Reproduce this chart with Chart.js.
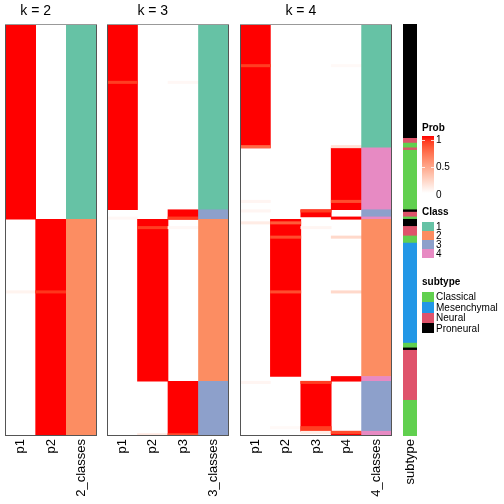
<!DOCTYPE html>
<html><head><meta charset="utf-8">
<script src="https://cdn.jsdelivr.net/npm/chart.js@4.4.1/dist/chart.umd.min.js"></script>
<style>
html,body{margin:0;padding:0;background:#fff;}
#wrap{position:relative;width:504px;height:504px;overflow:hidden;font-family:"Liberation Sans",Arial,sans-serif;}
canvas{position:absolute;top:0;}
.lg{position:absolute;font-size:10px;line-height:12px;height:12px;color:#000;white-space:nowrap;}
.lt{font-weight:bold;}
.sw{position:absolute;width:12px;left:422px;}
.tk{position:absolute;width:3px;height:1px;background:rgba(255,255,255,0.8);}
</style></head><body>
<div id="wrap">
<canvas id="c2" width="102" height="504" style="left:0px"></canvas>
<canvas id="c3" width="132" height="504" style="left:102px"></canvas>
<canvas id="c4" width="163" height="504" style="left:234px"></canvas>
<canvas id="cs" width="26" height="504" style="left:397px"></canvas>
<div id="legend"></div>
</div>
<script>
// ---------------- data (rows = samples in heatmap order) ----------------
const N_SAMPLES = 173;

// runs: [startRow, endRow, probability]; later runs are drawn over earlier ones
const k2Labels = ['p1', 'p2', '2_classes'];
const k2_p1 = [[0, 82, 1], [112, 113, 0.06]];
const k2_p2 = [[82, 173, 1], [112, 113, 0.92]];
const k2_class = [[0, 82, 1], [82, 173, 2]];

const k3Labels = ['p1', 'p2', 'p3', '3_classes'];
const k3_p1 = [[0, 78, 1], [24, 25, 0.9], [81, 82, 0.04]];
const k3_p2 = [[82, 150, 1], [85, 86, 0.9], [172, 173, 0.12]];
const k3_p3 = [[78, 82, 1], [81, 82, 0.9], [150, 173, 1], [172, 173, 0.85], [24, 25, 0.04], [85, 86, 0.04]];
const k3_class = [[0, 78, 1], [78, 82, 3], [82, 150, 2], [150, 173, 3]];

const k4Labels = ['p1', 'p2', 'p3', 'p4', '4_classes'];
const k4_p1 = [[0, 52, 1], [17, 18, 0.9], [51, 52, 0.75], [74, 75, 0.05], [78, 79, 0.05], [83, 84, 0.1], [150, 151, 0.05]];
const k4_p2 = [[82, 148, 1], [83, 84, 0.8], [89, 90, 0.85], [112, 113, 0.85], [169, 170, 0.03]];
const k4_p3 = [[78, 81, 1], [78, 79, 0.9], [150, 171, 1], [150, 151, 0.9], [169, 171, 0.9], [171, 172, 0.1], [85, 86, 0.05]];
const k4_p4 = [[52, 78, 1], [74, 75, 0.85], [81, 82, 1], [148, 150, 1], [171, 173, 1], [171, 172, 0.85], [17, 18, 0.03], [51, 52, 0.15], [89, 90, 0.2], [112, 113, 0.2]];
const k4_class = [[0, 52, 1], [52, 78, 4], [78, 81, 3], [81, 82, 4], [82, 148, 2], [148, 150, 4], [150, 171, 3], [171, 173, 4]];

const subtypeNames = ['Classical', 'Mesenchymal', 'Neural', 'Proneural'];
const subtypeRuns = [
  [0, 48, 'Proneural'], [48, 50, 'Neural'], [50, 52, 'Classical'], [52, 53, 'Neural'],
  [53, 78, 'Classical'], [78, 79, 'Proneural'], [79, 81, 'Neural'], [81, 82, 'Classical'],
  [82, 85, 'Proneural'], [85, 89, 'Neural'], [89, 92, 'Classical'], [92, 134, 'Mesenchymal'],
  [134, 136, 'Classical'], [136, 137, 'Proneural'], [137, 158, 'Neural'], [158, 173, 'Classical']
];

const classColors = ['#66C2A5', '#FC8D62', '#8DA0CB', '#E78AC3'];
const subtypeColors = {Classical: '#61D04F', Mesenchymal: '#2297E6', Neural: '#DF536B', Proneural: '#000000'};
const probTicks = ['1', '0.5', '0'];

// ---------------- colour ramp white -> red in LAB ----------------
function toLin(c){c/=255;return c<=0.04045?c/12.92:Math.pow((c+0.055)/1.055,2.4);}
function toSrgb(c){const v=c<=0.0031308?12.92*c:1.055*Math.pow(c,1/2.4)-0.055;return Math.round(Math.max(0,Math.min(1,v))*255);}
const Wn=[0.95047,1,1.08883];
function rgb2lab(r,g,b){r=toLin(r);g=toLin(g);b=toLin(b);
  const X=(0.4124*r+0.3576*g+0.1805*b)/Wn[0],Y=(0.2126*r+0.7152*g+0.0722*b)/Wn[1],Z=(0.0193*r+0.1192*g+0.9505*b)/Wn[2];
  const f=t=>t>0.008856?Math.cbrt(t):7.787*t+16/116;
  const fx=f(X),fy=f(Y),fz=f(Z);return [116*fy-16,500*(fx-fy),200*(fy-fz)];}
function lab2rgb(L,a,b){const fy=(L+16)/116,fx=fy+a/500,fz=fy-b/200;
  const fi=t=>t*t*t>0.008856?t*t*t:(t-16/116)/7.787;
  const X=fi(fx)*Wn[0],Y=fi(fy)*Wn[1],Z=fi(fz)*Wn[2];
  return [toSrgb(3.2406*X-1.5372*Y-0.4986*Z),toSrgb(-0.9689*X+1.8758*Y+0.0415*Z),toSrgb(0.0557*X-0.2040*Y+1.0570*Z)];}
const LW=rgb2lab(255,255,255), LR=rgb2lab(255,0,0);
function probColor(v){const l=[0,1,2].map(i=>LW[i]+(LR[i]-LW[i])*v);const c=lab2rgb(l[0],l[1],l[2]);return `rgb(${c[0]},${c[1]},${c[2]})`;}

// ---------------- chart helpers ----------------
const FONT = '"Liberation Sans", Arial, sans-serif';
const panelDeco = {
  id: 'panelDeco',
  afterDraw(chart, args, opts) {
    if (!opts || (!opts.border && !opts.title)) return;
    const {ctx, chartArea: a} = chart;
    const x = chart.scales.x;
    ctx.save();
    if (opts.border) {
      ctx.strokeStyle = '#555'; ctx.lineWidth = 1;
      ctx.strokeRect(a.left + 0.5, a.top + 0.5, a.right - a.left - 1, a.bottom - a.top - 1);
      ctx.strokeStyle = '#999';
      ctx.beginPath(); ctx.moveTo(a.left, a.top + 0.5); ctx.lineTo(a.right, a.top + 0.5); ctx.stroke();
    }
    if (opts.title) {
      const half = (x.getPixelForValue(1) - x.getPixelForValue(0)) / 2;
      const l = x.getPixelForValue(0) - half, r = x.getPixelForValue(opts.nP - 1) + half;
      ctx.font = '14px ' + FONT; ctx.fillStyle = '#000';
      ctx.textAlign = 'center'; ctx.textBaseline = 'alphabetic';
      ctx.fillText(opts.title, (l + r) / 2, 15);
    }
    ctx.restore();
  }
};
Chart.register(panelDeco);

function buildPoints(labels, probRuns, classRuns) {
  const pts = [];
  probRuns.forEach((runs, i) => runs.forEach(r => pts.push({x: labels[i], y: [r[0], r[1]], v: r[2]})));
  classRuns.forEach(r => pts.push({x: labels[labels.length - 1], y: [r[0], r[1]], cls: r[2]}));
  return pts;
}

function makeChart(id, labels, points, colorFn, padL, padR, deco) {
  return new Chart(document.getElementById(id), {
    type: 'bar',
    data: {labels: labels, datasets: [{
      data: points, backgroundColor: colorFn, borderWidth: 0,
      categoryPercentage: 1, barPercentage: 1, grouped: false
    }]},
    options: {
      responsive: false, animation: false, devicePixelRatio: 1, events: [],
      layout: {padding: {left: padL, right: padR, top: 24, bottom: 4}},
      plugins: {legend: {display: false}, tooltip: {enabled: false}, title: {display: false}, panelDeco: deco},
      scales: {
        x: {type: 'category', offset: true, grid: {display: false, drawTicks: false}, border: {display: false},
            ticks: {color: '#000', font: {size: 13, family: FONT}, minRotation: 90, maxRotation: 90, padding: 3, autoSkip: false},
            afterFit: s => { s.height = 64; s.paddingLeft = 0; s.paddingRight = 0; }},
        y: {type: 'linear', min: 0, max: N_SAMPLES, reverse: true, display: false}
      }
    }
  });
}

const heatColor = c => {
  const r = c.raw; if (!r) return '#fff';
  return r.cls ? classColors[r.cls - 1] : probColor(r.v);
};

makeChart('c2', k2Labels, buildPoints(k2Labels, [k2_p1, k2_p2], k2_class), heatColor, 5, 5, {title: 'k = 2', nP: 2, border: true});
makeChart('c3', k3Labels, buildPoints(k3Labels, [k3_p1, k3_p2, k3_p3], k3_class), heatColor, 5, 5, {title: 'k = 3', nP: 3, border: true});
makeChart('c4', k4Labels, buildPoints(k4Labels, [k4_p1, k4_p2, k4_p3, k4_p4], k4_class), heatColor, 6, 5, {title: 'k = 4', nP: 4, border: true});

const subPoints = subtypeRuns.map(r => ({x: 'subtype', y: [r[0], r[1]], s: r[2]}));
makeChart('cs', ['subtype'], subPoints, c => c.raw ? subtypeColors[c.raw.s] : '#fff', 6, 6, {border: false});

// ---------------- legends (HTML text) ----------------
const lg = document.getElementById('legend');
function addText(txt, left, cy, bold) {
  const d = document.createElement('div'); d.className = 'lg' + (bold ? ' lt' : '');
  d.textContent = txt; d.style.left = left + 'px'; d.style.top = (cy - 6) + 'px'; lg.appendChild(d);
}
function addSwatch(top, h, color) {
  const d = document.createElement('div'); d.className = 'sw';
  d.style.top = top + 'px'; d.style.height = h + 'px'; d.style.background = color; lg.appendChild(d);
}
addText('Prob', 422, 128, true);
const stops = [];
for (let i = 0; i <= 10; i++) stops.push(probColor(i / 10) + ' ' + (i * 10) + '%');
const grad = document.createElement('div'); grad.className = 'sw';
grad.style.top = '136px'; grad.style.height = '57px';
grad.style.background = 'linear-gradient(to top,' + stops.join(',') + ')';
lg.appendChild(grad);
[140, 167].forEach(y => [422, 431].forEach(x => {
  const t = document.createElement('div'); t.className = 'tk'; t.style.left = x + 'px'; t.style.top = y + 'px'; lg.appendChild(t);
}));
[140, 167, 195].forEach((cy, i) => addText(probTicks[i], 436, cy, false));

addText('Class', 422, 212, true);
classColors.forEach((c, i) => { addSwatch(222 + i * 9, 9, c); addText(String(i + 1), 436, 226.5 + i * 9, false); });

addText('subtype', 422, 282, true);
subtypeNames.forEach((n, i) => { addSwatch(292 + i * 10.3, 10.3, subtypeColors[n]); addText(n, 436, 297 + i * 10.6, false); });
</script>
</body></html>
